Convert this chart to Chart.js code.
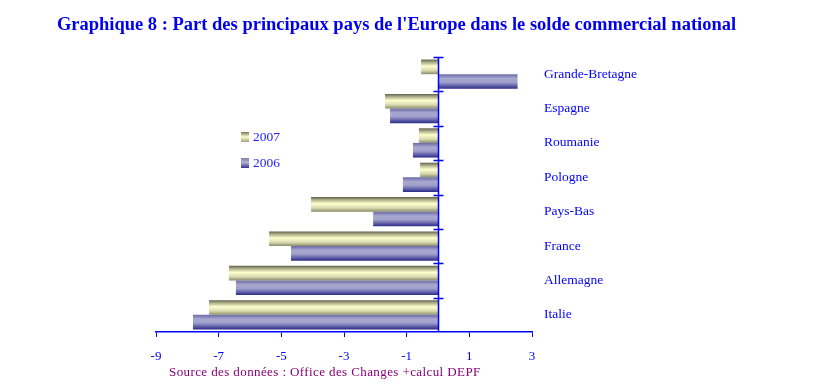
<!DOCTYPE html>
<html>
<head>
<meta charset="utf-8">
<script src="https://cdn.jsdelivr.net/npm/chart.js@4/dist/chart.umd.min.js"></script>
<style>
  html, body { margin:0; padding:0; background:#fff; }
  #wrap { position:relative; width:815px; height:392px; }
  canvas { position:absolute; left:0; top:0; }
  .title { position:absolute; left:0; width:793px; top:14px; text-align:center; font-family:"Liberation Serif", serif; font-weight:bold; font-size:18.5px; color:#0000ee; white-space:nowrap; }
  .source { position:absolute; left:169px; top:364px; font-family:"Liberation Serif", serif; font-size:13px; color:#880077; white-space:nowrap; letter-spacing:0.4px; }
  .leg { position:absolute; font-family:"Liberation Serif", serif; font-size:13.5px; color:#2222ff; white-space:nowrap; }
  .sw { display:inline-block; width:8px; height:10px; margin-right:4px; vertical-align:-1px; }
</style>
</head>
<body>
<div id="wrap">
  <canvas id="c" width="815" height="392"></canvas>
  <div class="title">Graphique 8 : Part des principaux pays de l'Europe dans le solde commercial national</div>
  <div class="leg" style="left:241px; top:129px;"><span class="sw" style="background:linear-gradient(#77775a,#ffffcc 50%,#a0a080);"></span>2007</div>
  <div class="leg" style="left:241px; top:155px;"><span class="sw" style="background:linear-gradient(#8080b8,#b0b0d8 45%,#333390);"></span>2006</div>
  <div class="source">Source des données : Office des Changes +calcul DEPF</div>
</div>
<script>
const categories = ["Grande-Bretagne", "Espagne", "Roumanie", "Pologne", "Pays-Bas", "France", "Allemagne", "Italie"];
const seriesNames = ["2007", "2006"];
const values2007 = [-0.54, -1.69, -0.61, -0.57, -4.05, -5.39, -6.67, -7.31];
const values2006 = [2.54, -1.53, -0.80, -1.12, -2.07, -4.69, -6.45, -7.82];
const xTicks = [-9, -7, -5, -3, -1, 1, 3];

const CAT_PCT = 0.85;
const stops2007 = [[0, '#5e5e46'], [0.15, '#a0a080'], [0.45, '#ffffcc'], [0.75, '#d8d8b0'], [1, '#8a8a6a']];
const stops2006 = [[0, '#6a6aa8'], [0.3, '#a8a8d0'], [0.55, '#a0a0cc'], [0.8, '#6060a8'], [1, '#2a2a88']];

function barGrad(ctx, stops) {
  const chart = ctx.chart;
  const ys = chart.scales && chart.scales.y;
  if (!ys || !chart.chartArea || ctx.dataIndex === undefined) return stops[2][1];
  const band = ys.height / categories.length;
  const center = ys.getPixelForValue(ctx.dataIndex);
  const bh = band * CAT_PCT / 2;
  const top = center - bh + ctx.datasetIndex * bh;
  const g = chart.ctx.createLinearGradient(0, top, 0, top + bh);
  stops.forEach(s => g.addColorStop(s[0], s[1]));
  return g;
}

const zeroAxis = {
  id: 'zeroAxis',
  afterDatasetsDraw(chart) {
    const c = chart.ctx, xs = chart.scales.x, ys = chart.scales.y, a = chart.chartArea;
    const x0 = Math.round(xs.getPixelForValue(0)) + 0.5;
    c.save();
    c.strokeStyle = '#0000ff';
    c.lineWidth = 1.5;
    c.beginPath();
    c.moveTo(x0, a.top);
    c.lineTo(x0, a.bottom);
    const band = ys.height / categories.length;
    for (let i = 0; i < categories.length; i++) {
      const y = Math.round(a.top + i * band) + 0.5;
      c.moveTo(x0 - 5, y);
      c.lineTo(x0 + 5, y);
    }
    c.stroke();
    c.restore();
  }
};

new Chart(document.getElementById('c'), {
  type: 'bar',
  data: {
    labels: categories,
    datasets: [
      { label: seriesNames[0], data: values2007, backgroundColor: ctx => barGrad(ctx, stops2007), borderWidth: 0 },
      { label: seriesNames[1], data: values2006, backgroundColor: ctx => barGrad(ctx, stops2006), borderWidth: 0 }
    ]
  },
  options: {
    indexAxis: 'y',
    responsive: false,
    animation: false,
    layout: { padding: { left: 156, top: 57, right: 0, bottom: 30 } },
    datasets: { bar: { categoryPercentage: CAT_PCT, barPercentage: 1.0 } },
    plugins: { legend: { display: false }, tooltip: { enabled: false }, title: { display: false } },
    scales: {
      x: {
        type: 'linear',
        min: xTicks[0],
        max: xTicks[xTicks.length - 1],
        afterBuildTicks: s => { s.ticks = xTicks.map(v => ({ value: v })); },
        afterFit: s => { s.height = 30; },
        grid: { display: true, drawOnChartArea: false, drawTicks: true, tickLength: 5, color: '#0000ff' },
        border: { display: true, color: '#0000ff', width: 1.5 },
        ticks: { color: '#0000ff', padding: 12, font: { family: 'Liberation Serif', size: 13 }, maxRotation: 0 }
      },
      y: {
        type: 'category',
        position: 'right',
        afterFit: s => { s.width = 283; },
        grid: { display: false },
        border: { display: false },
        ticks: { color: '#0000ff', padding: 4, font: { family: 'Liberation Serif', size: 13.5 } }
      }
    }
  },
  plugins: [zeroAxis]
});
</script>
</body>
</html>
